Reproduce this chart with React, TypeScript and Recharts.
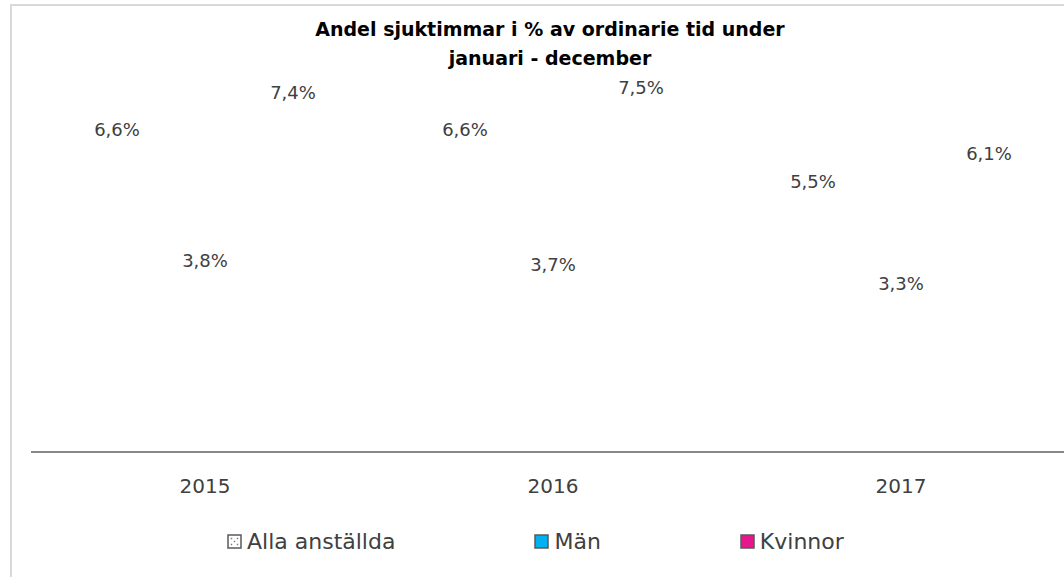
import React from "react";
import { BarChart, Bar, XAxis, YAxis, LabelList, Legend } from "recharts";

const years = ["2015", "2016", "2017"];
const allaAnstallda = [6.6, 6.6, 5.5];
const man = [3.8, 3.7, 3.3];
const kvinnor = [7.4, 7.5, 6.1];

const series = [
  { key: "alla", name: "Alla anställda", color: "#ffffff", dotted: true },
  { key: "man", name: "Män", color: "#00B0F0", dotted: false },
  { key: "kvinnor", name: "Kvinnor", color: "#E5178D", dotted: false },
];

const data = years.map((year, i) => ({
  year,
  alla: allaAnstallda[i],
  man: man[i],
  kvinnor: kvinnor[i],
}));

const FONT = "'DejaVu Sans', sans-serif";
const TEXT = "#404040";

function formatPct(v: number): string {
  return v.toFixed(1).replace(".", ",") + "%";
}

function LegendIcon({ color, dotted }: { color: string; dotted: boolean }) {
  return (
    <svg width={15} height={15} style={{ marginRight: 5, display: "block" }}>
      <rect x={1} y={1} width={13} height={13} fill={color} stroke="#595959" strokeWidth={1.5} />
      {dotted &&
        [
          [4.5, 4.5],
          [10.5, 4.5],
          [7.5, 7.5],
          [4.5, 10.5],
          [10.5, 10.5],
        ].map(([cx, cy], i) => <rect key={i} x={cx - 0.75} y={cy - 0.75} width={1.5} height={1.5} fill="#7f7f7f" />)}
    </svg>
  );
}

function CustomLegend() {
  return (
    <div style={{ display: "flex", alignItems: "center", height: 40, paddingLeft: 227, fontFamily: FONT }}>
      {series.map((s, i) => (
        <div
          key={s.key}
          style={{ display: "flex", alignItems: "center", marginRight: i < series.length - 1 ? 139 : 0 }}
        >
          <LegendIcon color={s.color} dotted={s.dotted} />
          <span style={{ fontSize: 22, color: TEXT, whiteSpace: "nowrap" }}>{s.name}</span>
        </div>
      ))}
    </div>
  );
}

export default function App() {
  return (
    <div
      style={{
        position: "fixed",
        left: 0,
        top: 0,
        width: 1064,
        height: 577,
        overflow: "hidden",
        background: "#ffffff",
      }}
    >
      <div
        style={{
          position: "absolute",
          left: 10,
          top: 4,
          width: 1200,
          height: 700,
          border: "2px solid #d9d9d9",
        }}
      />
      <div
        style={{
          position: "absolute",
          left: 0,
          top: 15,
          width: 1100,
          textAlign: "center",
          fontFamily: FONT,
          fontWeight: 700,
          fontSize: 19,
          lineHeight: "29px",
          color: "#000000",
        }}
      >
        Andel sjuktimmar i % av ordinarie tid under
        <br />
        januari - december
      </div>
      <div style={{ position: "absolute", left: 0, top: 0 }}>
        <BarChart
          width={1100}
          height={577}
          data={data}
          margin={{ top: 79, right: 25, bottom: 16, left: 31 }}
          barCategoryGap={42}
          barGap={0}
        >
          <XAxis
            dataKey="year"
            axisLine={{ stroke: "#898989", strokeWidth: 2 }}
            tickLine={false}
            tickMargin={21}
            height={69}
            tick={{ fontSize: 20, fill: TEXT, fontFamily: FONT }}
          />
          <YAxis hide domain={[0, 8]} />
          <Legend
            verticalAlign="bottom"
            content={() => <CustomLegend />}
            wrapperStyle={{ left: 0, width: 1100 }}
          />
          {series.map((s) => (
            <Bar key={s.key} dataKey={s.key} name={s.name} fill="none" isAnimationActive={false}>
              <LabelList
                dataKey={s.key}
                position="top"
                offset={8}
                formatter={(v: any) => formatPct(Number(v))}
                style={{ fontSize: 18, fill: TEXT, fontFamily: FONT }}
              />
            </Bar>
          ))}
        </BarChart>
      </div>
    </div>
  );
}
